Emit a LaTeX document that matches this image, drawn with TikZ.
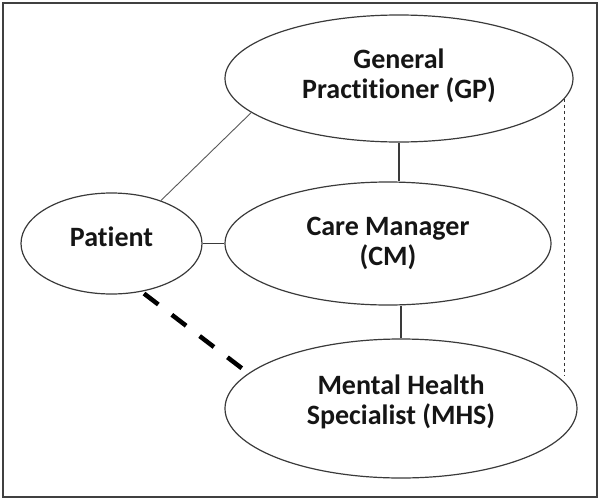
\documentclass[tikz,border=0pt]{standalone}
\usepackage{fontspec}
\setmainfont{Carlito}[Ligatures=NoCommon]
\usetikzlibrary{shapes.geometric}
\definecolor{edgegray}{HTML}{3A3A3A}
\definecolor{txt}{HTML}{151515}
\tikzset{
  oval/.style={ellipse, draw=edgegray, line width=1.2pt, inner sep=0pt,
    align=center, text=txt,
    font=\fontsize{28}{30}\selectfont\bfseries},
  link/.style={draw=edgegray, line width=1.3pt},
  thinlink/.style={draw=black!65, line width=0.9pt},
  heavydash/.style={draw=black, line width=4.5pt, dash pattern=on 18pt off 17pt},
  dotlink/.style={draw=black!80, line width=1.6pt, dash pattern=on 3.6pt off 2.4pt},
}
\begin{document}
\begin{tikzpicture}[x=1pt,y=-1pt]
\useasboundingbox (0,0) rectangle (600,501);
\draw[draw=black!75, line width=2.2pt] (3,3) rectangle (597,497);

\node[oval, minimum width=348pt, minimum height=127pt, text depth=10pt] (GP) at (399,78.5) {General\\Practitioner (GP)};
\node[oval, minimum width=326pt, minimum height=123pt] (CM) at (388,243.5) {Care Manager\\(CM)};
\node[oval, minimum width=352pt, minimum height=139pt, text depth=17pt] (MHS) at (401,408.5) {Mental Health\\Specialist (MHS)};
\node[oval, minimum width=181pt, minimum height=101pt, text depth=14pt] (Pat) at (111.5,243.5) {Patient};

\coordinate (dotend) at (563,375);

\draw[link] (GP.south) -- (GP.south |- CM.north);
\draw[link] (MHS.north) -- (MHS.north |- CM.south);
\draw[link] (Pat.east) -- (CM.west);
\draw[thinlink] (GP.193) -- (Pat.41);
\draw[heavydash, shorten <=3pt] (Pat.-58) -- (MHS.167);
\draw[dotlink] (GP.-7.4) -- (GP.-7.4 |- dotend);
\end{tikzpicture}
\end{document}
